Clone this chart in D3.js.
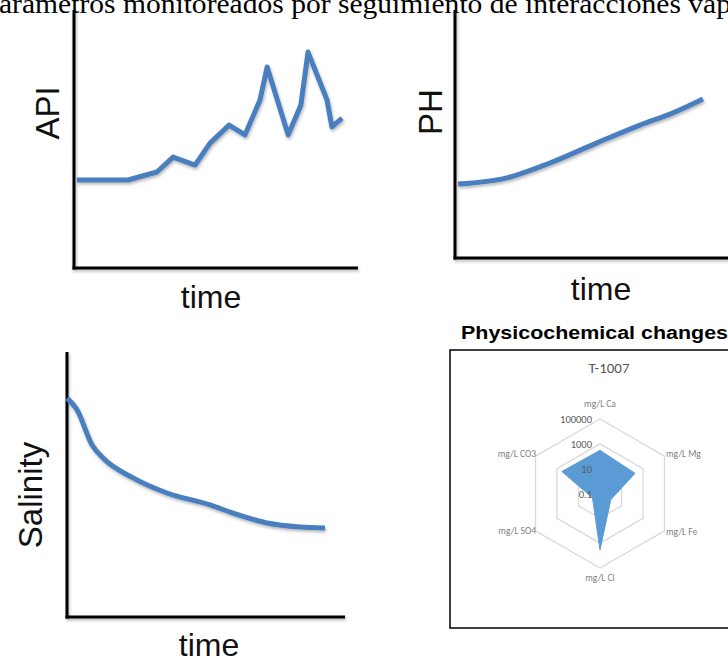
<!DOCTYPE html>
<html>
<head>
<meta charset="utf-8">
<script src="https://cdn.jsdelivr.net/npm/d3@7"></script>
<style>
  html, body { margin: 0; padding: 0; background: #fff; overflow: hidden; }
  svg { display: block; }
</style>
</head>
<body>
<svg id="chart" width="728" height="662"></svg>
<script>
// ---------- data ----------
const headerText = "arámetros monitoreados por seguimiento de interacciones vap";

const apiTime   = [1, 19, 29.2, 34.9, 42.6, 47.9, 54.6, 60.2, 65.5, 68, 75.4, 79.9, 82.4, 89.1, 90.8, 94.4];
const apiValues = [34.1, 34.1, 37.2, 43, 39.9, 48.4, 55.4, 51.6, 65.1, 77.9, 51.6, 63.2, 83.7, 65.1, 54.7, 58.1];

const phTime   = [1.1, 18.2, 33.3, 49.8, 64.9, 76.5, 87];
const phValues = [29.8, 32.3, 38.3, 46.4, 53.6, 58.5, 64.1];

const salTime   = [0, 3.7, 9.2, 13.2, 24.2, 36.6, 52.4, 60.8, 73.3, 85.3, 94.5];
const salValues = [82.6, 78.1, 64.9, 60, 52.5, 46.8, 42.3, 39.2, 35.5, 34, 33.6];

const radarAxes   = ["mg/L Ca", "mg/L Mg", "mg/L Fe", "mg/L Cl", "mg/L SO4", "mg/L CO3"];
const radarValues = [300, 180, 1, 3500, 0.5, 350];
const radarTicks  = [0.1, 10, 1000, 100000];
const radarTickLabels = ["0.1", "10", "1000", "100000"];

// ---------- setup ----------
const svg = d3.select("#chart");
const defs = svg.append("defs");
const f = defs.append("filter").attr("id", "shadow")
  .attr("x", "-10%").attr("y", "-10%").attr("width", "130%").attr("height", "130%");
f.append("feDropShadow").attr("dx", 1).attr("dy", 2).attr("stdDeviation", 1.4)
  .attr("flood-color", "#000").attr("flood-opacity", 0.28);

const lineColor = "#4a7ebf";
const sans = "'Liberation Sans', Arial, Helvetica, sans-serif";
const small = "Carlito, Calibri, 'Open Sans', " + sans;

// header (cropped at the top, as in the source picture)
svg.append("text")
  .attr("x", -1).attr("y", 13)
  .attr("font-family", "'Liberation Serif', 'Times New Roman', serif")
  .attr("font-size", 27)
  .attr("textLength", 732).attr("lengthAdjust", "spacingAndGlyphs")
  .attr("fill", "#000")
  .text(headerText);

function lineChart(cfg) {
  const x = d3.scaleLinear().domain([0, 100]).range([cfg.x0, cfg.x1]);
  const y = d3.scaleLinear().domain([0, 100]).range([cfg.yBottom, cfg.yTop]);
  const g = svg.append("g");
  const ax = g.append("g").attr("filter", "url(#shadow)");
  ax.append("line").attr("x1", x(0)).attr("x2", x(0)).attr("y1", y(100)).attr("y2", y(0) + 1.5)
    .attr("stroke", "#000").attr("stroke-width", 3);
  ax.append("line").attr("x1", x(0) - 1.5).attr("x2", cfg.axisEnd).attr("y1", y(0)).attr("y2", y(0))
    .attr("stroke", "#000").attr("stroke-width", 3);
  const pts = cfg.t.map((t, i) => [t, cfg.v[i]]);
  const line = d3.line().x(d => x(d[0])).y(d => y(d[1])).curve(cfg.curve || d3.curveLinear);
  g.append("path").datum(pts).attr("d", line)
    .attr("fill", "none").attr("stroke", lineColor).attr("stroke-width", 5)
    .attr("stroke-linejoin", "round").attr("stroke-linecap", "butt")
    .attr("filter", "url(#shadow)");
  g.append("text").attr("transform", `translate(${cfg.yLabelX},${cfg.yLabelY}) rotate(-90)`)
    .attr("text-anchor", "middle").attr("font-family", sans).attr("font-size", 33).attr("fill", "#111")
    .text(cfg.yLabel);
  g.append("text").attr("x", cfg.xLabelX).attr("y", cfg.xLabelY)
    .attr("text-anchor", "middle").attr("font-family", sans).attr("font-size", 32).attr("fill", "#111")
    .text("time");
}

lineChart({ x0: 74, x1: 358, axisEnd: 358, yTop: 10, yBottom: 268, t: apiTime, v: apiValues,
  yLabel: "API", yLabelX: 59, yLabelY: 113, xLabelX: 211, xLabelY: 308 });
lineChart({ x0: 455, x1: 740, axisEnd: 740, yTop: 10, yBottom: 258, t: phTime, v: phValues,
  curve: d3.curveMonotoneX,
  yLabel: "PH", yLabelX: 442, yLabelY: 112, xLabelX: 601, xLabelY: 300 });
lineChart({ x0: 67, x1: 340, axisEnd: 345, yTop: 352, yBottom: 617, t: salTime, v: salValues,
  curve: d3.curveMonotoneX,
  yLabel: "Salinity", yLabelX: 42, yLabelY: 495, xLabelX: 209, xLabelY: 656 });

// ---------- radar ----------
svg.append("text").attr("x", 461).attr("y", 339)
  .attr("font-family", sans).attr("font-weight", "bold").attr("font-size", 18)
  .attr("textLength", 267).attr("lengthAdjust", "spacingAndGlyphs")
  .attr("fill", "#000").text("Physicochemical changes");

svg.append("rect").attr("x", 450).attr("y", 350).attr("width", 300).attr("height", 278)
  .attr("fill", "#fff").attr("stroke", "#000").attr("stroke-width", 1.5);

svg.append("text").attr("x", 609).attr("y", 373)
  .attr("text-anchor", "middle").attr("font-family", small)
  .attr("font-size", 15).attr("fill", "#595959").text("T-1007");

const cx = 600, cy = 493.5;
const r = d3.scaleLog().domain([0.1, 100000]).range([0, 74.5]);
const ang = i => (i * Math.PI * 2) / radarAxes.length;
const pt = (i, rad) => [cx + rad * Math.sin(ang(i)), cy - rad * Math.cos(ang(i))];

const rg = svg.append("g");
radarTicks.forEach(t => {
  const rad = r(t);
  if (rad <= 0) return;
  rg.append("polygon")
    .attr("points", radarAxes.map((_, i) => pt(i, rad).join(",")).join(" "))
    .attr("fill", "none").attr("stroke", "#d9d9d9").attr("stroke-width", 1.3);
});

rg.append("polygon")
  .attr("points", radarValues.map((v, i) => pt(i, r(v)).join(",")).join(" "))
  .attr("fill", "#5b9bd5").attr("stroke", "#5b9bd5").attr("stroke-width", 1);

radarTicks.forEach((t, k) => {
  rg.append("text").attr("x", cx - 8).attr("y", cy - r(t) + 4)
    .attr("text-anchor", "end").attr("font-family", small)
    .attr("font-size", 10.5).attr("fill", "#595959").text(radarTickLabels[k]);
});

const labelPos = [
  { dx: 0, dy: -87, anchor: "middle" },
  { dx: 66, dy: -37, anchor: "start" },
  { dx: 66, dy: 41, anchor: "start" },
  { dx: 0, dy: 87, anchor: "middle" },
  { dx: -64, dy: 40, anchor: "end" },
  { dx: -64, dy: -37, anchor: "end" }
];
radarAxes.forEach((a, i) => {
  rg.append("text").attr("x", cx + labelPos[i].dx).attr("y", cy + labelPos[i].dy)
    .attr("text-anchor", labelPos[i].anchor).attr("font-family", small)
    .attr("font-size", 9.5).attr("fill", "#7f7f7f").text(a);
});
</script>
</body>
</html>
